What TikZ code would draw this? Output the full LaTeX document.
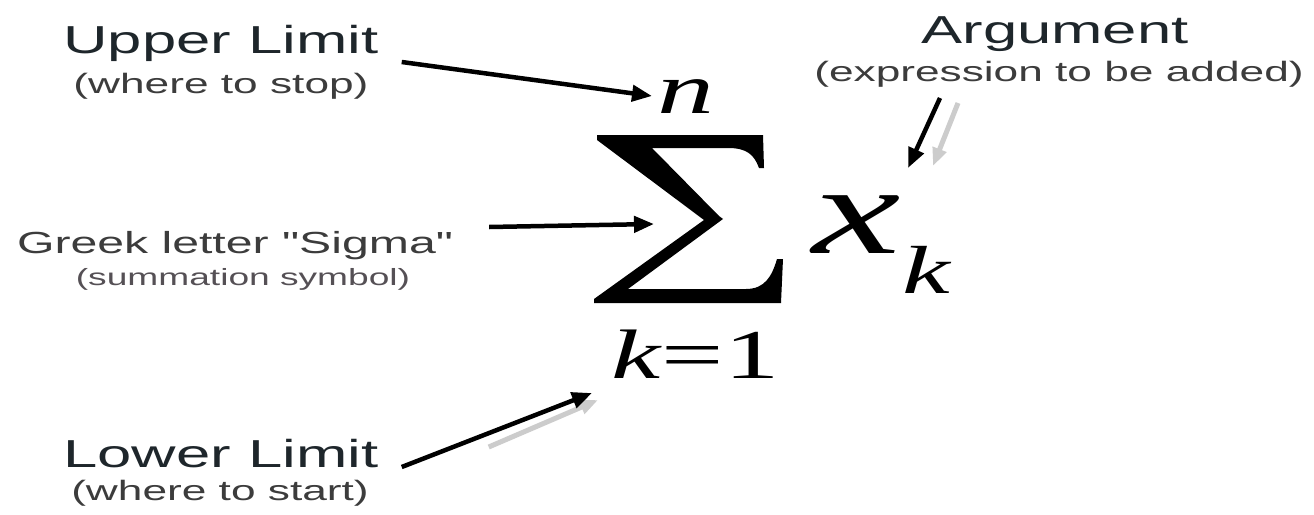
\documentclass[tikz,border=0pt]{standalone}
\usepackage{fontspec}
\setmainfont{Liberation Serif}
\newfontfamily\lsans{Liberation Sans}
\usetikzlibrary{arrows.meta,calc}
\definecolor{headc}{HTML}{1E262B}
\definecolor{subc}{HTML}{3C3C3C}
\definecolor{subc2}{HTML}{555055}
\newcommand\sx[1]{\scalebox{1.58}[1]{#1}}
\begin{document}
\begin{tikzpicture}[x=1pt,y=-1pt,
  head/.style={inner sep=0, anchor=base, text=headc, font=\lsans\fontsize{39}{39}\selectfont},
  subtxt/.style={inner sep=0, anchor=base, text=subc, font=\lsans\fontsize{28}{28}\selectfont},
  mitalic/.style={inner sep=0, anchor=base west},
  arr/.style={line width=4.5pt, black, -{Triangle[length=20pt,width=16pt]}},
  shade/.style={line width=5pt, black!20, -{Triangle[length=18pt,width=14pt]}}]
\useasboundingbox (0,0) rectangle (1314,514);
\fill[white] (0,0) rectangle (1314,514);

% labels
\node[head] (ul) at (221,53) {\sx{Upper Limit}};
\node[subtxt] (uls) at (221,93) {\sx{(where to stop)}};
\node[head, font=\lsans\fontsize{30.5}{31}\selectfont, text=subc] (gl) at (235,253) {\sx{Greek letter "Sigma"}};
\node[subtxt, font=\lsans\fontsize{23.5}{24}\selectfont, text=subc2] (gls) at (243,285) {\sx{(summation symbol)}};
\node[head] (ll) at (221,467) {\sx{Lower Limit}};
\node[subtxt] (lls) at (220,500) {\sx{(where to start)}};
\node[head] (ag) at (1055,43) {\sx{Argument}};
\node[subtxt] (ags) at (1059,81) {\sx{(expression to be added)}};

% math
\node[mitalic] (n) at (657,113) {\fontsize{72}{72}\selectfont\itshape\sx{n}};
\node[mitalic] (x) at (812,253) {\fontsize{126}{126}\selectfont\itshape\sx{x}};
\node[mitalic] (k) at (902,293) {\fontsize{68}{68}\selectfont\itshape\sx{k}};
\node[mitalic] (low) at (611,378) {\fontsize{70}{70}\selectfont\sx{\textit{k}=1}};

% summation sign
\fill[black] (597,135) -- (763,135) -- (764,168) -- (759,168)
  .. controls (754,154) and (746,148) .. (728,148) -- (652,148) -- (719,216)
  -- (723,219) -- (628,289) -- (746,289)
  .. controls (765,289) and (772,276) .. (777,259) -- (783,259) -- (781,303)
  -- (594,303) -- (594,299) -- (704,220) -- (597,140) -- cycle;
\coordinate (sigin) at (654,224);

% arrows
\draw[shade] ($(ags.base)+(-101,22)$) -- ($(x.base west)+(121,-87)$);
\draw[shade] ($(ll.base east)+(110,-20)$) -- ($(low.base west)+(-13,22)$);
\draw[arr] ($(ul.base east)+(23,9)$) -- ($(n.base west)+(-5,-17)$);
\draw[arr] ($(gl.base east)+(36,-26)$) -- (sigin);
\draw[arr] ($(ll.base east)+(23,0)$) -- ($(low.base west)+(-19,15)$);
\draw[arr] ($(ags.base)+(-119,17)$) -- ($(x.base west)+(96,-85)$);
\end{tikzpicture}
\end{document}
